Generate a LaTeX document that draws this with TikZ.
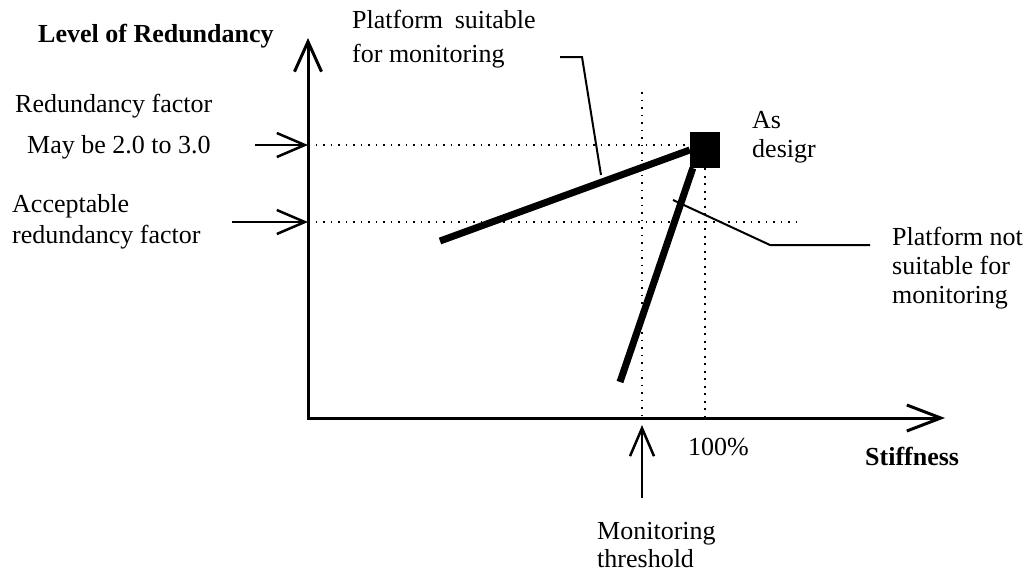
\documentclass[tikz,border=0pt]{standalone}
\usepackage{fontspec}
\setmainfont{Liberation Serif}
\usetikzlibrary{arrows.meta}

\tikzset{
  axisline/.style={line width=3pt,{Straight Barb[length=30pt,width=27pt]}-{Straight Barb[length=34pt,width=26pt]}},
  pointer/.style={line width=2.5pt,-{Straight Barb[length=28pt,width=24pt]}},
  curve/.style={line width=7pt},
  leader/.style={line width=2pt},
  guide/.style={line width=1.9pt,dash pattern=on 1.9pt off 5.6pt},
  lbl/.style={inner sep=0pt,anchor=base west,align=left,font=\fontsize{26}{31}\selectfont},
}

\begin{document}
\begin{tikzpicture}[x=1pt,y=-1pt]
        \useasboundingbox (0,0) rectangle (1026,573);
        \fill[white] (0,0) rectangle (1026,573);

        % axes
        \coordinate (origin) at (308,418);
        \coordinate (ytip) at (308,38);
        \coordinate (xtip) at (945,418);
        \draw[axisline] (ytip) -- (origin) -- (xtip);
        \node[lbl,font=\fontsize{26}{31}\selectfont\bfseries] (ylabel) at (38,42) {Level of Redundancy};
        \node[lbl,font=\fontsize{26}{31}\selectfont\bfseries] (xlabel) at (865,465) {Stiffness};

        % as designed
        \node[fill=black,minimum width=30pt,minimum height=36pt,inner sep=0pt] (design) at (705,150) {};
        \node[lbl,font=\fontsize{26}{29}\selectfont] (asdesign) at (752,157) {As\\desigr};

        % redundancy levels
        \coordinate (yfactor) at (308,145);
        \coordinate (yaccept) at (308,222);
        \coordinate (acceptend) at (800,222);
        \draw[guide] (yfactor) -- (design.west |- yfactor);
        \draw[guide] (yaccept) -- (acceptend);
        \node[lbl] (factor) at (15,112) {Redundancy factor};
        \node[lbl] (maybe) at (27,153) {May be 2.0 to 3.0};
        \coordinate (maybetail) at (255,145);
        \draw[pointer] (maybetail) -- (yfactor);
        \node[lbl] (accept) at (12,243) {Acceptable\\redundancy factor};
        \coordinate (accepttail) at (232,222);
        \draw[pointer] (accepttail) -- (yaccept);

        % stiffness marks
        \coordinate (threshtop) at (642,92);
        \coordinate (threshbase) at (642,418);
        \draw[guide] (threshtop) -- (threshbase);
        \draw[guide] (design.south) -- (design.south |- origin);
        \node[lbl] (hundred) at (688,455) {100\%};
        \node[lbl,font=\fontsize{26}{28}\selectfont] (threshold) at (597,567) {Monitoring\\threshold};
        \coordinate (threshtail) at (642,498);
        \coordinate (threshtip) at (642,425);
        \draw[pointer] (threshtail) -- (threshtip);

        % suitable
        \coordinate (goodend) at (440,241);
        \draw[curve] (goodend) -- (design.west);
        \node[lbl,font=\fontsize{26}{34}\selectfont] (suitable) at (352,62) {Platform\hspace{0.45em}suitable\\for monitoring};
        \coordinate (goodstart) at (560,57);
        \coordinate (goodknee) at (582,57);
        \coordinate (goodpoint) at (601,175);
        \draw[leader] (goodstart) -- (goodknee) -- (goodpoint);

        % not suitable
        \coordinate (badend) at (620,382);
        \draw[curve] (badend) -- ([xshift=3pt]design.south west);
        \node[lbl,font=\fontsize{26}{29}\selectfont] (notsuitable) at (892,303) {Platform not\\suitable for\\monitoring};
        \coordinate (badpoint) at (673,200);
        \coordinate (badknee) at (770,245);
        \coordinate (badstart) at (870,245);
        \draw[leader] (badpoint) -- (badknee) -- (badstart);
\end{tikzpicture}
\end{document}
